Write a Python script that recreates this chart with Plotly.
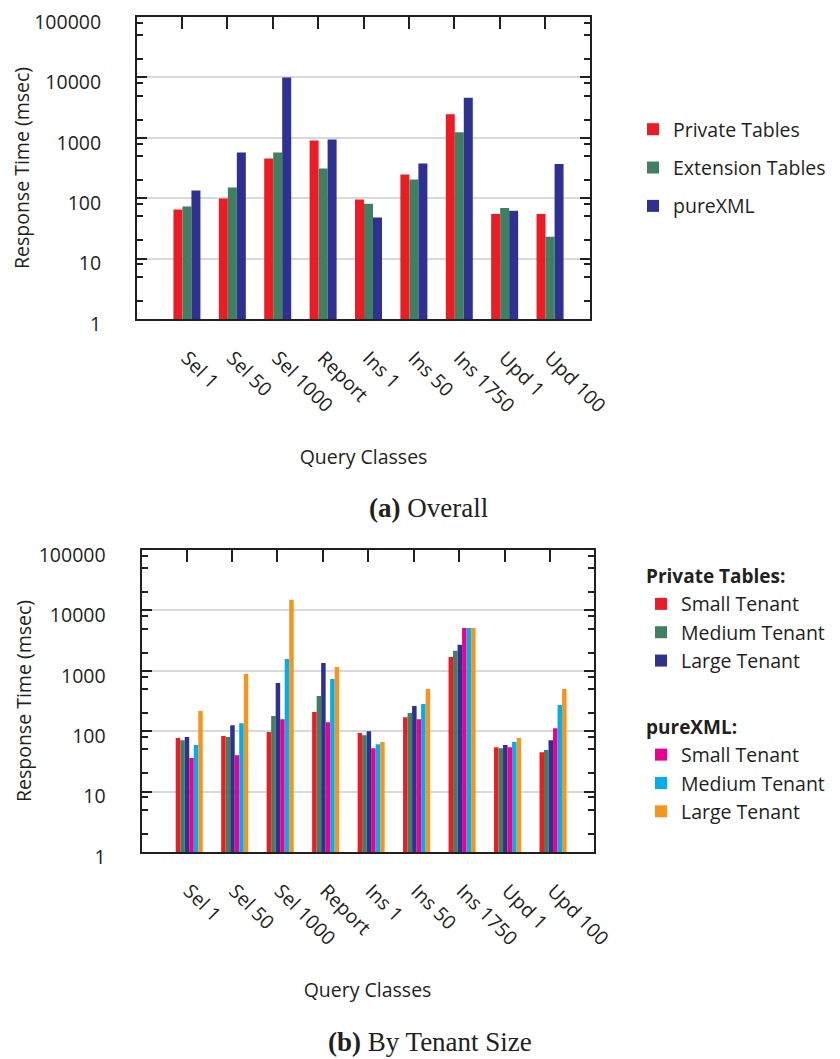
import plotly.graph_objects as go

W, H = 840, 1059
OFF = 8  # the page body margin shifts the figure by this many pixels

categories = ["Sel 1", "Sel 50", "Sel 1000", "Report", "Ins 1", "Ins 50", "Ins 1750", "Upd 1", "Upd 100"]

# (a) Overall
private_tables = [65, 99, 455, 905, 95, 247, 2450, 55, 55]
extension_tables = [73, 150, 572, 310, 81, 204, 1230, 69, 23]
pure_xml = [134, 572, 10000, 940, 48, 376, 4600, 62, 370]

# (b) By Tenant Size
pt_small = [77, 83, 97, 207, 93, 171, 1690, 54, 45]
pt_medium = [71, 80, 178, 382, 86, 200, 2140, 52, 49]
pt_large = [80, 126, 627, 1350, 100, 261, 2700, 59, 71]
px_small = [36, 40, 158, 141, 52, 158, 5100, 54, 112]
px_medium = [59, 136, 1567, 731, 61, 282, 5100, 66, 271]
px_large = [215, 885, 14960, 1155, 66, 500, 5100, 77, 500]

ytick_vals = [1, 10, 100, 1000, 10000, 100000]
ytick_text = ["1", "10", "100", "1000", "10000", "100000"]

RED = "#ED1C24"
GREEN = "#3E8060"
BLUE = "#2E3192"
MAGENTA = "#EC008C"
CYAN = "#00AEEF"
ORANGE = "#F7941D"
INK = "#231F20"
FONT = "Open Sans"

xs = list(range(len(categories)))
minor_vals = [m * 10 ** d for d in range(5) for m in (2, 5, 8)]

FW, FH = W - OFF, H - OFF

fig = go.Figure()

top_series = [("Private Tables", private_tables, RED),
              ("Extension Tables", extension_tables, GREEN),
              ("pureXML", pure_xml, BLUE)]
for name, vals, col in top_series:
    fig.add_trace(go.Bar(x=xs, y=vals, name=name, marker=dict(color=col, line=dict(width=0)),
                         xaxis="x", yaxis="y", legend="legend", legendgroup=name))

bot_series = [("Small Tenant", pt_small, RED, "pt"), ("Medium Tenant", pt_medium, GREEN, "pt"),
              ("Large Tenant", pt_large, BLUE, "pt"),
              ("Small Tenant", px_small, MAGENTA, "px"), ("Medium Tenant", px_medium, CYAN, "px"),
              ("Large Tenant", px_large, ORANGE, "px")]
group_titles = {"pt": "<b>Private Tables:</b>", "px": "<b>pureXML:</b>"}
for name, vals, col, grp in bot_series:
    fig.add_trace(go.Bar(x=xs, y=vals, name=name, marker=dict(color=col, line=dict(width=0)),
                         xaxis="x2", yaxis="y2", legend="legend2", legendgroup=grp,
                         legendgrouptitle=dict(text=group_titles[grp],
                                               font=dict(family=FONT, size=19, color=INK))))

# invisible traces carrying the top tick axes
fig.add_trace(go.Scatter(x=[0], y=[1], xaxis="x3", yaxis="y", mode="markers",
                         marker=dict(opacity=0), showlegend=False, hoverinfo="skip"))
fig.add_trace(go.Scatter(x=[0], y=[1], xaxis="x4", yaxis="y2", mode="markers",
                         marker=dict(opacity=0), showlegend=False, hoverinfo="skip"))

def px2x(p):
    return (p - OFF) / FW

def px2y(p):
    return 1 - (p - OFF) / FH

top_dom_x = [px2x(137), px2x(590)]
top_dom_y = [px2y(319), px2y(17)]
bot_dom_x = [px2x(141.5), px2x(593.5)]
bot_dom_y = [px2y(852), px2y(550)]

top_range = [-1.10, 8.88]
bot_range = [-1.05, 8.89]

tickfont = dict(family=FONT, size=19.5, color=INK)

def xaxis_bottom(dom, rng, anchor):
    return dict(domain=dom, range=rng, anchor=anchor, tickmode="array", tickvals=xs,
                ticktext=categories, tickangle=45, ticks="", showline=True, mirror=True,
                linecolor=INK, linewidth=2, showgrid=False, zeroline=False,
                tickfont=tickfont, ticklabelstandoff=18, automargin=False,
                ticklabeloverflow="allow",
                title=dict(text="Query Classes", font=dict(family=FONT, size=19.5, color=INK),
                           standoff=33))

def xaxis_top(dom, rng, overlay, anchor, offset):
    return dict(domain=dom, range=rng, overlaying=overlay, anchor=anchor, side="top",
                tickmode="array", tickvals=[v - offset for v in xs], ticks="inside",
                ticklen=12, tickwidth=2, tickcolor=INK, showticklabels=False,
                showline=True, linecolor=INK, linewidth=2,
                showgrid=False, zeroline=False, automargin=False)

def yaxis(dom, anchor):
    return dict(domain=dom, anchor=anchor, type="log", range=[0, 5], tickmode="array",
                tickvals=ytick_vals, ticktext=ytick_text, ticks="inside", ticklen=10,
                tickwidth=2, tickcolor=INK, showline=True, linecolor=INK, linewidth=2,
                mirror="ticks", showgrid=True, gridcolor="#D9D9D9", gridwidth=1.5,
                zeroline=False, tickfont=tickfont, ticklabelstandoff=30, automargin=False,
                ticklabeloverflow="allow", ticklabelshift=5,
                minor=dict(tickmode="array", tickvals=minor_vals, ticks="inside", ticklen=6,
                           tickwidth=1.5, tickcolor=INK, showgrid=False),
                title=dict(text="Response Time (msec)",
                           font=dict(family=FONT, size=19.5, color=INK), standoff=2))

fig.update_layout(
    width=FW, height=FH,
    margin=dict(l=0, r=0, t=0, b=0),
    paper_bgcolor="white", plot_bgcolor="white",
    barmode="group",
    bargap=0.405,
    bargroupgap=0,
    font=dict(family=FONT, size=19.5, color=INK),
    xaxis=xaxis_bottom(top_dom_x, top_range, "y"),
    yaxis=yaxis(top_dom_y, "x"),
    xaxis2=xaxis_bottom(bot_dom_x, bot_range, "y2"),
    yaxis2=yaxis(bot_dom_y, "x2"),
    xaxis3=xaxis_top(top_dom_x, top_range, "x", "y", 0.11),
    xaxis4=xaxis_top(bot_dom_x, bot_range, "x2", "y2", 0.06),
    legend=dict(x=px2x(633), y=px2y(110), xanchor="left", yanchor="top",
                font=dict(family=FONT, size=19.5, color=INK), tracegroupgap=10,
                bgcolor="rgba(0,0,0,0)", itemclick=False),
    legend2=dict(x=px2x(641), y=px2y(557), xanchor="left", yanchor="top",
                 font=dict(family=FONT, size=19.5, color=INK), tracegroupgap=38,
                 bgcolor="rgba(0,0,0,0)", itemclick=False),
    annotations=[
        dict(text="<b>(a)</b> Overall", x=px2x(428), y=px2y(508), xref="paper", yref="paper",
             showarrow=False, xanchor="center", yanchor="middle",
             font=dict(family="Liberation Serif", size=27, color=INK)),
        dict(text="<b>(b)</b> By Tenant Size", x=px2x(430), y=px2y(1042), xref="paper",
             yref="paper", showarrow=False, xanchor="center", yanchor="middle",
             font=dict(family="Liberation Serif", size=27, color=INK)),
    ],
)

fig.write_html("out.html")
